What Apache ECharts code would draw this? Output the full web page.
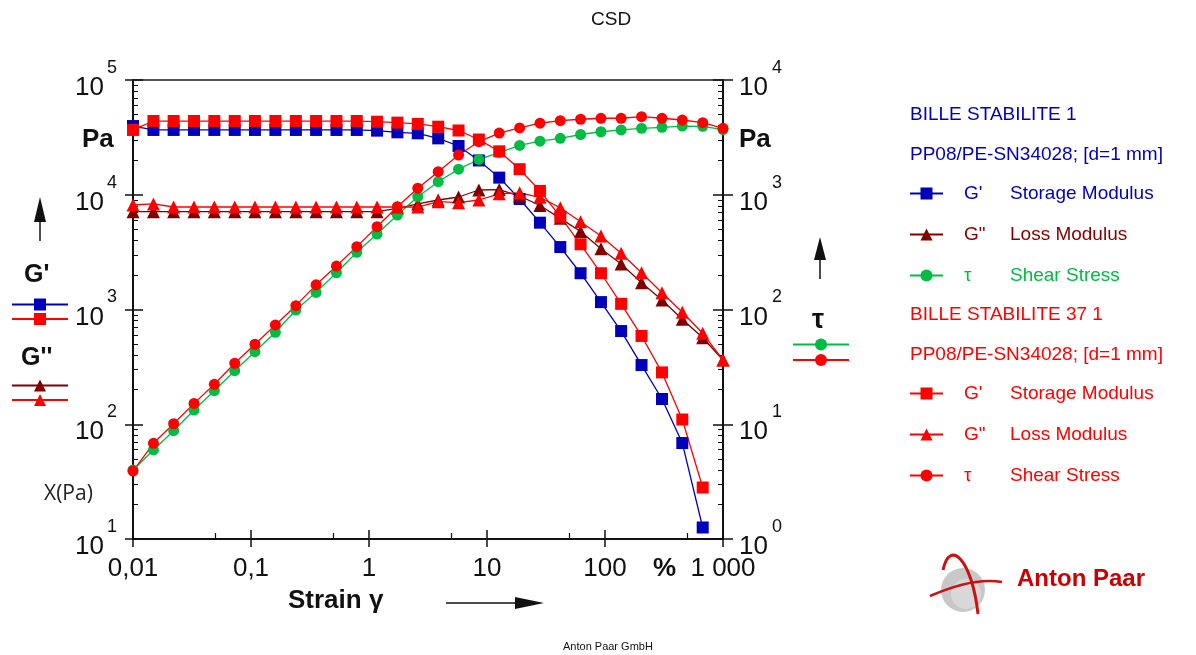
<!DOCTYPE html>
<html>
<head>
<meta charset="utf-8">
<script src="https://cdn.jsdelivr.net/npm/echarts@6.0.0/dist/echarts.min.js"></script>
<style>
  html, body { margin: 0; padding: 0; background: #fff; }
  #chart { width: 1196px; height: 655px; }
</style>
</head>
<body>
<div id="chart"></div>
<script>
// strain values (%)
const strain = [0.01, 0.0149, 0.0221, 0.0329, 0.0489, 0.0728, 0.108, 0.161, 0.24, 0.356,
  0.53, 0.788, 1.17, 1.74, 2.59, 3.86, 5.74, 8.53, 12.7, 18.9,
  28.1, 41.8, 62.1, 92.4, 137, 204, 304, 452, 673, 1000]

// BILLE STABILITE 1
const s1Storage = [39700, 36700, 36700, 36700, 36700, 36700, 36700, 36700, 36700, 36700,
  36700, 36700, 36200, 35000, 34300, 31000, 26600, 19900, 14100, 9180,
  5710, 3500, 2070, 1160, 649, 328, 166, 68.6, 12.6, null]
const s1Loss = [7120, 7120, 7120, 7120, 7120, 7120, 7120, 7120, 7120, 7120,
  7120, 7120, 7120, 7620, 8310, 9000, 9560, 11000, 11100, 9750,
  8060, 6230, 4780, 3390, 2490, 1710, 1210, 821, 567, 363]
const s1Stress = [3.99, 5.97, 8.79, 13.3, 19.6, 29.3, 42.9, 63.3, 99, 141,
  209, 315, 455, 666, 962, 1300, 1670, 2030, 2330, 2690,
  2930, 3100, 3350, 3540, 3670, 3790, 3870, 3970, 3950, 3700]

// BILLE STABILITE 37 1
const s2Storage = [36700, 43900, 43900, 43900, 43900, 43900, 43900, 43900, 43900, 43900,
  43900, 43900, 43300, 42500, 41400, 39200, 36300, 30300, 23900, 16700,
  10800, 6440, 3700, 2070, 1120, 588, 283, 110, 28.1, null]
const s2Loss = [8140, 8310, 7820, 7820, 7820, 7820, 7820, 7820, 7820, 7820,
  7820, 7820, 7820, 7820, 7820, 8700, 8530, 9000, 10200, 10400,
  9500, 7700, 5820, 4370, 3090, 2090, 1400, 947, 620, 363]
const s2Stress = [3.91, 6.82, 10.1, 15.2, 22.3, 34.0, 49.8, 73.3, 108, 164,
  239, 353, 527, 787, 1140, 1590, 2220, 2900, 3450, 3820,
  4200, 4420, 4550, 4640, 4640, 4790, 4640, 4480, 4250, 3790]

const xTickLabels = ['0,01', '0,1', '1', '10', '100', '1 000']
const xMinorTicks = [0.05, 0.5, 5, 50, 500]

const sampleNames = ['BILLE STABILITE 1', 'BILLE STABILITE 37 1']
const sampleInfo = 'PP08/PE-SN34028; [d=1 mm]'

const BLUE = '#0000bb'
const RED = '#ff0000'
const DARKRED = '#800000'
const GREEN = '#00bb44'
const FONT = '"Liberation Sans", Arial, sans-serif'

function minorTicks(lo, hi) {
  const out = []
  for (let d = lo; d < hi; d *= 10) {
    for (let m = 2; m <= 9; m++) out.push(d * m)
  }
  return out
}

function pairs(vals) {
  const out = []
  strain.forEach((x, i) => { if (vals[i] != null) out.push([x, vals[i]]) })
  return out
}

function makeSeries(name, vals, yIdx, symbol, size, color) {
  return {
    name: name,
    type: 'line',
    xAxisIndex: 0,
    yAxisIndex: yIdx,
    data: pairs(vals),
    symbol: symbol,
    symbolSize: size,
    lineStyle: { width: 1.3, color: color },
    itemStyle: { color: color },
    emphasis: { disabled: true },
    animation: false
  }
}

const legendShort = {
  s1G1: "G'", s1G2: 'G"', s1T: 'τ',
  s2G1: "G'", s2G2: 'G"', s2T: 'τ'
}
const legendLong = {
  s1G1: 'Storage Modulus', s1G2: 'Loss Modulus', s1T: 'Shear Stress',
  s2G1: 'Storage Modulus', s2G2: 'Loss Modulus', s2T: 'Shear Stress'
}

// "10" part of the decade labels, sits a bit below the tick
function baseLabel(margin) {
  return {
    margin: margin, fontSize: 26, lineHeight: 16, verticalAlign: 'top',
    color: '#111', fontFamily: FONT, formatter: () => '10'
  }
}
// exponent part, raised above the tick
function expLabel(margin) {
  return {
    show: true, margin: margin, fontSize: 18, lineHeight: 24, verticalAlign: 'bottom',
    color: '#111', fontFamily: FONT, formatter: v => String(Math.round(Math.log10(v)))
  }
}

function hiddenX(extra) {
  return Object.assign({
    type: 'log', logBase: 10, min: 0.01, max: 1000, position: 'bottom',
    axisLine: { show: false }, axisLabel: { show: false }, splitLine: { show: false }
  }, extra)
}
function hiddenY(extra) {
  return Object.assign({
    type: 'log', logBase: 10,
    axisLine: { show: false }, axisLabel: { show: false }, splitLine: { show: false }
  }, extra)
}

const legendText = {
  fontSize: 19, fontFamily: FONT,
  rich: { a: { width: 46, padding: [0, 0, 0, 16], fontSize: 19, fontFamily: FONT }, b: { fontSize: 19, fontFamily: FONT } }
}

const chart = echarts.init(document.getElementById('chart'))

chart.setOption({
  animation: false,
  textStyle: { fontFamily: FONT },
  grid: { left: 133, top: 80, width: 590, height: 459, containLabel: false },
  xAxis: [
    {
      type: 'log', logBase: 10, min: 0.01, max: 1000, position: 'bottom',
      axisLine: { lineStyle: { color: '#111', width: 2 } },
      axisTick: { inside: false, length: 8, lineStyle: { color: '#111', width: 1.5 } },
      axisLabel: {
        margin: 17, fontSize: 26, color: '#111', fontFamily: FONT,
        formatter: v => xTickLabels[Math.round(Math.log10(v)) + 2]
      },
      splitLine: { show: false }
    },
    hiddenX({ axisTick: { inside: true, length: 9, lineStyle: { color: '#111', width: 1.5 } } }),
    hiddenX({ axisTick: { inside: true, length: 6, customValues: xMinorTicks, lineStyle: { color: '#111', width: 1.2 } } }),
    hiddenX({ position: 'top', axisLine: { show: true, lineStyle: { color: '#555', width: 2 } }, axisTick: { show: false } })
  ],
  yAxis: [
    {
      type: 'log', logBase: 10, min: 10, max: 100000, position: 'left',
      axisLine: { lineStyle: { color: '#111', width: 2 } },
      axisTick: { inside: false, length: 8, lineStyle: { color: '#111', width: 1.5 } },
      axisLabel: baseLabel(29),
      splitLine: { show: false }
    },
    {
      type: 'log', logBase: 10, min: 1, max: 10000, position: 'right',
      axisLine: { lineStyle: { color: '#111', width: 2 } },
      axisTick: { inside: false, length: 10, lineStyle: { color: '#111', width: 1.5 } },
      axisLabel: baseLabel(16),
      splitLine: { show: false }
    },
    hiddenY({ min: 10, max: 100000, position: 'left', axisLabel: expLabel(16), axisTick: { inside: true, length: 10, lineStyle: { color: '#111', width: 1.5 } } }),
    hiddenY({ min: 1, max: 10000, position: 'right', axisLabel: expLabel(49), axisTick: { inside: true, length: 10, lineStyle: { color: '#111', width: 1.5 } } }),
    hiddenY({ min: 10, max: 100000, position: 'left', axisTick: { inside: true, length: 5, customValues: minorTicks(10, 100000), lineStyle: { color: '#111', width: 1 } } }),
    hiddenY({ min: 1, max: 10000, position: 'right', axisTick: { inside: true, length: 5, customValues: minorTicks(1, 10000), lineStyle: { color: '#111', width: 1 } } })
  ],
  legend: [
    // key beside the left axis
    { data: ['s1G1', 's2G1'], orient: 'vertical', left: 11, top: 297, padding: 0, itemWidth: 56, itemHeight: 15, itemGap: 1, formatter: () => '', selectedMode: false },
    { data: ['s1G2', 's2G2'], orient: 'vertical', left: 11, top: 378, padding: 0, itemWidth: 56, itemHeight: 15, itemGap: 1, formatter: () => '', selectedMode: false },
    // key beside the right axis
    { data: ['s1T', 's2T'], orient: 'vertical', left: 792, top: 337, padding: 0, itemWidth: 56, itemHeight: 15, itemGap: 2, formatter: () => '', selectedMode: false },
    // sample legends
    {
      data: [
        { name: 's1G1', textStyle: { color: BLUE } },
        { name: 's1G2', textStyle: { color: DARKRED } },
        { name: 's1T', textStyle: { color: GREEN } }
      ],
      orient: 'vertical', left: 909, top: 184, padding: 0, itemWidth: 33, itemHeight: 15, itemGap: 22, selectedMode: false,
      formatter: n => '{a|' + legendShort[n] + '}{b|' + legendLong[n] + '}',
      textStyle: legendText
    },
    {
      data: [
        { name: 's2G1', textStyle: { color: RED } },
        { name: 's2G2', textStyle: { color: RED } },
        { name: 's2T', textStyle: { color: RED } }
      ],
      orient: 'vertical', left: 909, top: 384, padding: 0, itemWidth: 33, itemHeight: 15, itemGap: 22, selectedMode: false,
      formatter: n => '{a|' + legendShort[n] + '}{b|' + legendLong[n] + '}',
      textStyle: legendText
    }
  ],
  graphic: [
    { type: 'text', left: 591, top: 10, style: { text: 'CSD', font: '19px ' + FONT, fill: '#111' } },
    { type: 'text', left: 563, top: 641, style: { text: 'Anton Paar GmbH', font: '11px ' + FONT, fill: '#111' } },
    { type: 'text', left: 82, top: 127, style: { text: 'Pa', font: 'bold 26px ' + FONT, fill: '#111' } },
    { type: 'text', left: 739, top: 127, style: { text: 'Pa', font: 'bold 26px ' + FONT, fill: '#111' } },
    { type: 'text', left: 24, top: 263, style: { text: "G'", font: 'bold 25px ' + FONT, fill: '#111' } },
    { type: 'text', left: 21, top: 346, style: { text: "G''", font: 'bold 25px ' + FONT, fill: '#111' } },
    { type: 'text', left: 812, top: 307, style: { text: 'τ', font: 'bold 27px ' + FONT, fill: '#111' } },
    { type: 'text', left: 44, top: 484, style: { text: 'X(Pa)', font: '21px "Open Sans", sans-serif', fill: '#222' } },
    { type: 'text', left: 288, top: 588, style: { text: 'Strain γ', font: 'bold 26px ' + FONT, fill: '#111' } },
    { type: 'text', left: 653, top: 556, style: { text: '%', font: 'bold 26px ' + FONT, fill: '#111' } },
    // sample headings
    { type: 'text', left: 910, top: 105, style: { text: sampleNames[0], font: '19px ' + FONT, fill: BLUE } },
    { type: 'text', left: 910, top: 145, style: { text: sampleInfo, font: '19px ' + FONT, fill: BLUE } },
    { type: 'text', left: 910, top: 305, style: { text: sampleNames[1], font: '19px ' + FONT, fill: RED } },
    { type: 'text', left: 910, top: 345, style: { text: sampleInfo, font: '19px ' + FONT, fill: RED } },
    // arrows
    { type: 'line', shape: { x1: 40, y1: 220, x2: 40, y2: 241 }, style: { stroke: '#111', lineWidth: 1.5 } },
    { type: 'polygon', shape: { points: [[40, 197], [34, 222], [46, 222]] }, style: { fill: '#111' } },
    { type: 'line', shape: { x1: 820, y1: 258, x2: 820, y2: 279 }, style: { stroke: '#111', lineWidth: 1.5 } },
    { type: 'polygon', shape: { points: [[820, 237], [814, 260], [826, 260]] }, style: { fill: '#111' } },
    { type: 'line', shape: { x1: 446, y1: 603, x2: 518, y2: 603 }, style: { stroke: '#111', lineWidth: 1.5 } },
    { type: 'polygon', shape: { points: [[544, 603], [515, 597], [515, 609]] }, style: { fill: '#111' } },
    // Anton Paar logo
    { type: 'circle', shape: { cx: 963, cy: 590, r: 22 }, style: { fill: '#c8c8c8' } },
    { type: 'circle', shape: { cx: 966, cy: 594, r: 15 }, style: { fill: '#d8d8d8' } },
    { type: 'bezierCurve', shape: { x1: 943, y1: 570, cpx1: 950, cpy1: 538, cpx2: 972, cpy2: 560, x2: 978, y2: 614 }, style: { stroke: '#cc1111', lineWidth: 3, fill: null } },
    { type: 'bezierCurve', shape: { x1: 930, y1: 596, cpx1: 955, cpy1: 585, cpx2: 980, cpy2: 578, x2: 1002, y2: 582 }, style: { stroke: '#cc1111', lineWidth: 2.5, fill: null } },
    { type: 'text', left: 1017, top: 567, style: { text: 'Anton Paar', font: 'bold 24px ' + FONT, fill: '#cc0000' } }
  ],
  series: [
    makeSeries('s1G1', s1Storage, 0, 'rect', 12, BLUE),
    makeSeries('s1G2', s1Loss, 0, 'triangle', 13, DARKRED),
    makeSeries('s1T', s1Stress, 1, 'circle', 11, GREEN),
    makeSeries('s2G1', s2Storage, 0, 'rect', 12, RED),
    makeSeries('s2G2', s2Loss, 0, 'triangle', 13, RED),
    makeSeries('s2T', s2Stress, 1, 'circle', 11, RED)
  ]
})
</script>
</body>
</html>
